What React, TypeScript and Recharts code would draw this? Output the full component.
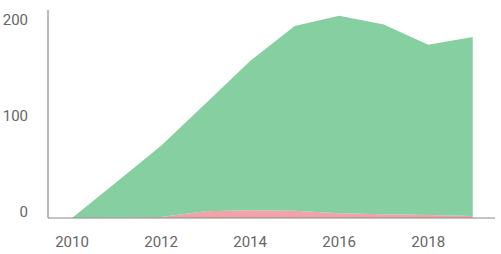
import { AreaChart, Area, XAxis, YAxis } from 'recharts';

if (typeof document !== 'undefined') {
  document.body.style.margin = '0';
}

const years = [2010, 2011, 2012, 2013, 2014, 2015, 2016, 2017, 2018, 2019];
const redValues = [0, 0.5, 1, 7, 8, 7.5, 5, 4, 3, 2];
const greenValues = [0, 37, 74, 112, 155, 192, 205, 197, 177, 186];
const xTicks = [2010, 2012, 2014, 2016, 2018];
const yTicks = [0, 100, 200];

const data = years.map((year, i) => ({
  year,
  red: redValues[i],
  green: greenValues[i],
}));

const YTick = ({ x, y, payload }: any) => (
  <text x={x - 12} y={y - 6} dy="0.355em" textAnchor="end" fill="#666" fontSize={15}>
    {payload.value}
  </text>
);

const XTick = ({ x, y, payload }: any) => (
  <text x={x} y={y + 16} dy="0.355em" textAnchor="middle" fill="#666" fontSize={15}>
    {payload.value}
  </text>
);

export default function App() {
  return (
    <div style={{ fontFamily: 'Roboto, sans-serif' }}>
      <AreaChart width={501} height={254} data={data} margin={{ top: 10, right: 6, left: 0, bottom: 0 }}>
        <XAxis
          dataKey="year"
          type="number"
          domain={[2009.46, 2019.5]}
          ticks={xTicks}
          tick={<XTick />}
          tickLine={false}
          stroke="#888"
          height={36}
        />
        <YAxis
          domain={[0, 216]}
          ticks={yTicks}
          tick={<YTick />}
          tickLine={false}
          stroke="#777"
          width={48}
        />
        <Area
          type="linear"
          dataKey="red"
          stackId="a"
          stroke="none"
          fill="#f1a3a8"
          fillOpacity={1}
          isAnimationActive={false}
        />
        <Area
          type="linear"
          dataKey="green"
          stackId="a"
          stroke="none"
          fill="#86cfa0"
          fillOpacity={1}
          isAnimationActive={false}
        />
      </AreaChart>
    </div>
  );
}
